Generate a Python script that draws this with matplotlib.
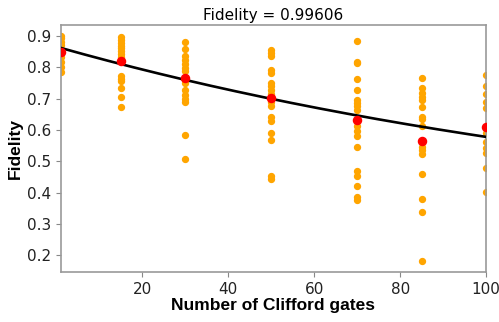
import matplotlib
matplotlib.use("Agg")
import matplotlib.pyplot as plt
import numpy as np

# sequence lengths and measured fidelities per length
lengths = [1, 15, 30, 50, 70, 85, 100]
samples = [
    [0.900, 0.893, 0.882, 0.871, 0.834, 0.818, 0.802, 0.786],
    [0.896, 0.889, 0.877, 0.868, 0.861, 0.852, 0.843, 0.834, 0.773, 0.763, 0.757, 0.733, 0.707, 0.675],
    [0.882, 0.858, 0.836, 0.824, 0.811, 0.799, 0.789, 0.749, 0.728, 0.712, 0.698, 0.691, 0.585, 0.507],
    [0.855, 0.845, 0.836, 0.791, 0.783, 0.751, 0.740, 0.728, 0.715, 0.691, 0.677, 0.643, 0.630, 0.592, 0.569, 0.452, 0.445],
    [0.885, 0.818, 0.813, 0.762, 0.728, 0.696, 0.688, 0.677, 0.664, 0.613, 0.598, 0.582, 0.547, 0.468, 0.452, 0.422, 0.388, 0.378],
    [0.765, 0.733, 0.719, 0.707, 0.696, 0.675, 0.643, 0.635, 0.613, 0.547, 0.535, 0.524, 0.460, 0.380, 0.340, 0.181],
    [0.776, 0.741, 0.714, 0.691, 0.670, 0.590, 0.563, 0.542, 0.526, 0.479, 0.404],
]
means = [0.850, 0.820, 0.765, 0.703, 0.632, 0.566, 0.611]

# fit F = A * p**m + B
fit_A = 0.616
fit_p = 0.99373
fit_B = 0.25

fig = plt.figure(figsize=(4.99, 3.22), dpi=100)
ax = fig.add_axes([0.122, 0.155, 0.852, 0.767])

for m, vals in zip(lengths, samples):
    ax.scatter([m] * len(vals), vals, s=18, color="#FFA500", zorder=2)

mfit = np.linspace(1, 100, 200)
ax.plot(mfit, fit_A * fit_p ** mfit + fit_B, color="black", lw=1.9, zorder=3)
ax.scatter(lengths, means, s=34, color="red", zorder=4)

ax.set_xlim(1, 100)
ax.set_ylim(0.147, 0.935)
ax.set_xticks([20, 40, 60, 80, 100])
ax.set_yticks([0.2, 0.3, 0.4, 0.5, 0.6, 0.7, 0.8, 0.9])
ax.tick_params(labelsize=11, color="#888888", labelcolor="#222222")
for sp in ax.spines.values():
    sp.set_color("#999999")
    sp.set_linewidth(1.2)

ax.set_title("Fidelity = 0.99606", fontsize=11, pad=4)
lab_font = dict(family="Liberation Sans", fontsize=12.5, fontweight="bold")
ax.set_xlabel("Number of Clifford gates", labelpad=1, **lab_font)
ax.set_ylabel("Fidelity", labelpad=3, **lab_font)

fig.savefig("out.png", dpi=100)
